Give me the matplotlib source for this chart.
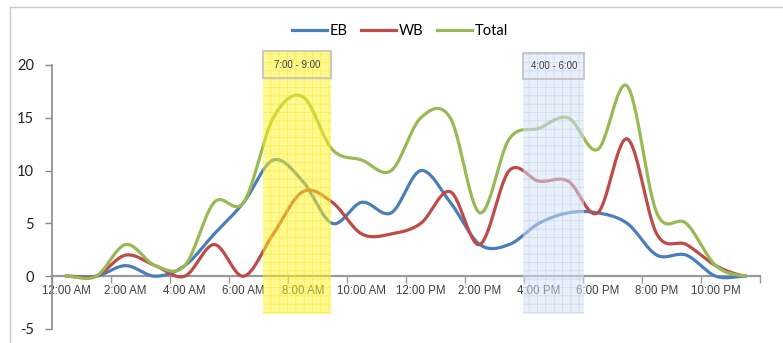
import numpy as np
import matplotlib.pyplot as plt
from matplotlib.patches import Rectangle
from matplotlib.lines import Line2D

plt.rcParams['font.family'] = ['Lato', 'DejaVu Sans']
plt.rcParams['hatch.linewidth'] = 0.6
plt.rcParams['axes.unicode_minus'] = False

# hourly counts, 12 AM .. 11 PM
hours = np.arange(24)
hour_labels = ["12:00 AM", "2:00 AM", "4:00 AM", "6:00 AM", "8:00 AM", "10:00 AM",
               "12:00 PM", "2:00 PM", "4:00 PM", "6:00 PM", "8:00 PM", "10:00 PM"]
eb = [0, 0, 1, 0, 1, 4, 7, 11, 9, 5, 7, 6, 10, 7, 3, 3, 5, 6, 6, 5, 2, 2, 0, 0]
wb = [0, 0, 2, 1, 0, 3, 0, 4, 8, 7, 4, 4, 5, 8, 3, 10, 9, 9, 6, 13, 4, 3, 1, 0]
total = [0, 0, 3, 1, 1, 7, 7, 15, 17, 12, 11, 10, 15, 15, 6, 13, 14, 15, 12, 18, 6, 5, 1, 0]

peak_labels = ["7:00 - 9:00", "4:00 - 6:00"]

SMALL = ['Liberation Sans', 'DejaVu Sans']


def smooth(x, y, steps=30):
    """Catmull-Rom curve through the points (like Excel's smoothed line)."""
    x = np.asarray(x, float)
    y = np.asarray(y, float)
    yp = np.concatenate([[y[0]], y, [y[-1]]])
    t = np.linspace(0, 1, steps, endpoint=False)
    h00 = 2 * t**3 - 3 * t**2 + 1
    h10 = t**3 - 2 * t**2 + t
    h01 = -2 * t**3 + 3 * t**2
    h11 = t**3 - t**2
    xs, ys = [], []
    for i in range(len(x) - 1):
        m1 = (yp[i + 2] - yp[i]) / 2
        m2 = (yp[i + 3] - yp[i + 1]) / 2
        ys.append(h00 * y[i] + h10 * m1 + h01 * y[i + 1] + h11 * m2)
        xs.append(x[i] + t * (x[i + 1] - x[i]))
    xs.append([x[-1]])
    ys.append([y[-1]])
    return np.concatenate(xs), np.concatenate(ys)


fig = plt.figure(figsize=(7.83, 3.43), dpi=100)
ax = fig.add_axes([52 / 783, 14 / 343, 708 / 783, 264 / 343])

ax.plot(*smooth(hours, eb), color='#4A7EBB', lw=2.3, label='EB', zorder=3)
ax.plot(*smooth(hours, wb), color='#BE4B48', lw=2.3, label='WB', zorder=3)
ax.plot(*smooth(hours, total), color='#98B954', lw=2.3, label='Total', zorder=3)

ax.set_xlim(-0.5, 23.5)
ax.set_ylim(-5, 20)

for side in ['top', 'right']:
    ax.spines[side].set_visible(False)
ax.spines['left'].set_color('#8C8C8C')
ax.spines['left'].set_linewidth(1.2)
ax.spines['bottom'].set_position(('data', 0))
ax.spines['bottom'].set_color('#9A9A9A')
ax.spines['bottom'].set_linewidth(1.6)

ax.set_yticks([-5, 0, 5, 10, 15, 20])
ax.tick_params(axis='y', direction='out', length=5, width=1, color='#8C8C8C',
               labelsize=10.5, labelcolor='#222222', pad=8)

# tick marks between categories, labels on every second hour
ax.set_xticks(np.arange(-0.5, 24, 2))
ax.set_xticklabels([])
ax.tick_params(axis='x', which='major', direction='out', length=5, width=1, color='#9A9A9A')
ax.set_xticks(hours[::2], minor=True)
ax.set_xticklabels(hour_labels, minor=True, family=SMALL)
ax.tick_params(axis='x', which='minor', length=0, pad=6, labelsize=8.3, labelcolor='#404040')

# peak period bands, drawn over the lines
bands = [
    (6.65, 8.96, 21.3, (1.0, 0.96, 0.15, 0.5), (0.96, 0.88, 0.0, 0.45), 18.77),
    (15.48, 17.55, 21.1, (0.84, 0.89, 0.96, 0.5), (0.66, 0.77, 0.91, 0.45), 18.68),
]
for (x0, x1, top, face, hatch_col, box_bot), text in zip(bands, peak_labels):
    ax.add_patch(Rectangle((x0, -3.6), x1 - x0, top + 3.6, facecolor=face,
                           edgecolor=hatch_col, hatch='++', lw=0,
                           clip_on=False, zorder=5))
    ax.add_patch(Rectangle((x0, box_bot), x1 - x0, top - box_bot, facecolor='none',
                           edgecolor='#C4C4C4', lw=1.3, clip_on=False, zorder=6))
    ax.text((x0 + x1) / 2, (top + box_bot) / 2, text, ha='center', va='center',
            fontsize=7, color='#404040', family=SMALL, zorder=7)

fig.legend(loc='center', bbox_to_anchor=(400 / 783, 1 - 31 / 343), ncol=3,
           frameon=False, fontsize=10.5, handlelength=2.4, handletextpad=0.2,
           columnspacing=0.9, borderpad=0)

# chart area border
fig.add_artist(Line2D([10 / 783, 1], [1 - 7 / 343, 1 - 7 / 343],
                      transform=fig.transFigure, color='#C8C8C8', lw=1))
fig.add_artist(Line2D([10 / 783, 10 / 783], [0, 1 - 7 / 343],
                      transform=fig.transFigure, color='#C8C8C8', lw=1))

fig.savefig('out.png', dpi=100)
